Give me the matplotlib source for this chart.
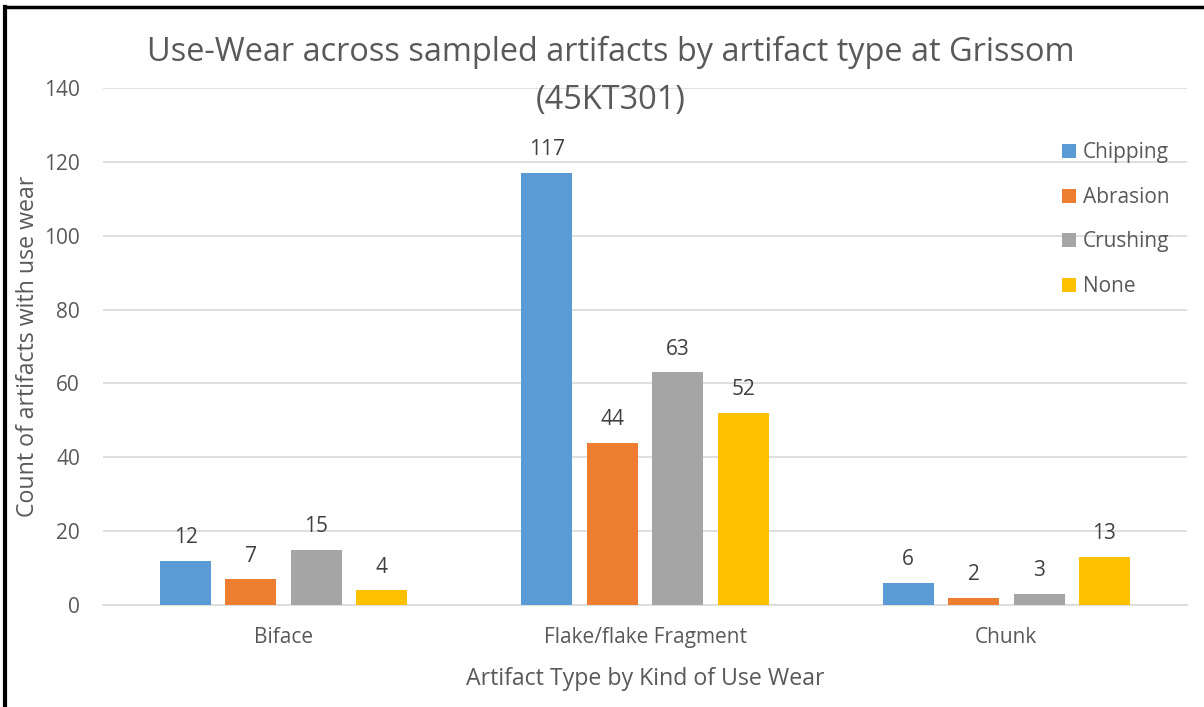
import matplotlib
matplotlib.use("Agg")
import matplotlib.pyplot as plt
import numpy as np
from matplotlib.lines import Line2D

categories = ["Biface", "Flake/flake Fragment", "Chunk"]
series_names = ["Chipping", "Abrasion", "Crushing", "None"]
chipping = [12, 117, 6]
abrasion = [7, 44, 2]
crushing = [15, 63, 3]
none_vals = [4, 52, 13]
colors = ["#5B9BD5", "#ED7D31", "#A5A5A5", "#FFC000"]
yticks = [0, 20, 40, 60, 80, 100, 120, 140]

plt.rcParams['font.family'] = ['Open Sans', 'DejaVu Sans']
TXT = "#595959"
W, H = 1204, 707
fig = plt.figure(figsize=(W/100, H/100), dpi=100)
ax = fig.add_axes([103/W, 1-605/H, (1187-103)/W, (605-88)/H])

x = np.arange(len(categories))
bw = 0.141
step = 0.181
all_series = [chipping, abrasion, crushing, none_vals]
for i, (vals, name, c) in enumerate(zip(all_series, series_names, colors)):
    off = (i - 1.5) * step
    bars = ax.bar(x + off, vals, bw, color=c, label=name, zorder=3)
    for b, v in zip(bars, vals):
        ax.annotate(str(v), (b.get_x() + b.get_width()/2, v), xytext=(0, 9),
                    textcoords="offset points", ha="center", va="bottom",
                    fontsize=15, color="#404040")

ax.set_xlim(-0.5, 2.5)
ax.set_ylim(0, 140)
ax.set_yticks(yticks)
ax.set_xticks(x)
ax.set_xticklabels(categories)
ax.tick_params(axis='both', length=0, labelsize=15, colors=TXT)
ax.tick_params(axis='y', pad=16.5)
ax.tick_params(axis='x', pad=15.5)
ax.grid(axis='y', color="#D9D9D9", linewidth=1.2, zorder=0)
for s in ["left", "right", "top"]:
    ax.spines[s].set_visible(False)
ax.spines["bottom"].set_color("#D9D9D9")
ax.spines["bottom"].set_linewidth(1.2)

ax.set_ylabel("Count of artifacts with use wear", fontsize=16.7, color=TXT)
ax.yaxis.set_label_coords((28-103)/(1187-103), 0.5)
ax.set_xlabel("Artifact Type by Kind of Use Wear", fontsize=16.7, color=TXT)
ax.xaxis.set_label_coords(0.5, -(679-605)/(605-88))
ax.xaxis.label.set_va("center")
ax.yaxis.label.set_va("center")

fig.text(611/W, 1-52/H, "Use-Wear across sampled artifacts by artifact type at Grissom",
         ha="center", va="center", fontsize=23.4, color=TXT)
fig.text(611/W, 1-100/H, "(45KT301)", ha="center", va="center", fontsize=23.4, color=TXT)

leg = ax.legend(loc="upper left", bbox_to_anchor=(1052/W, 1-132/H), bbox_transform=fig.transFigure,
                frameon=False, fontsize=15, labelcolor=TXT, handlelength=0.67, handleheight=0.67,
                handletextpad=0.33, labelspacing=1.13, borderpad=0)

fig.add_artist(Line2D([5/W, 5/W], [0, 1-7/H], color="black", linewidth=3, transform=fig.transFigure))
fig.add_artist(Line2D([5/W, 1], [1-7/H, 1-7/H], color="black", linewidth=2.5, transform=fig.transFigure))

fig.savefig("out.png", dpi=100, facecolor="white")
